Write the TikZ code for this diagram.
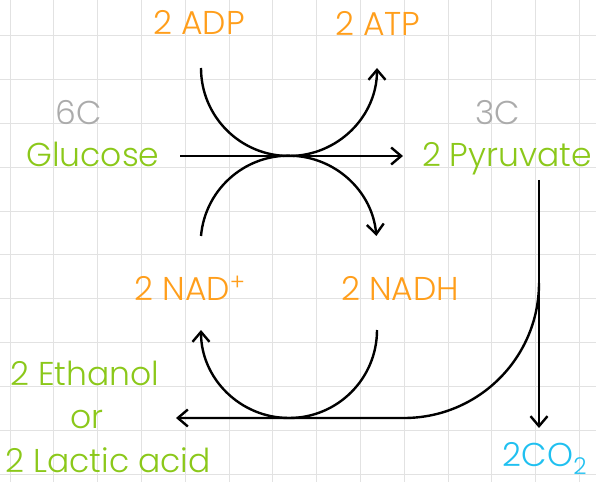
\documentclass[tikz,border=0pt]{standalone}
\usepackage{fontspec}
\setmainfont{Poppins}[UprightFont=* Light]
\usepackage{xcolor}
\usetikzlibrary{arrows.meta}

\definecolor{fuel}{HTML}{FF9E1B}
\definecolor{chem}{HTML}{8BC81A}
\definecolor{gas}{HTML}{20C0F0}
\definecolor{carb}{HTML}{ABABAB}
\definecolor{paper}{HTML}{E2E2E2}

\begin{document}
\begin{tikzpicture}[
    x=1pt, y=1pt,
    label/.style={anchor=base, inner sep=0pt, font=\fontsize{33}{36}\selectfont},
    arr/.style={-{Straight Barb[length=10pt, width=17pt, line width=2.4pt]}, line width=2.4pt}
]
\useasboundingbox (0,0) rectangle (596,482);

% Griglia
\foreach \i in {0,...,13}
    \draw[paper, line width=1pt] (10+43.8*\i,0) -- (10+43.8*\i,482);
\foreach \i in {0,...,10}
    \draw[paper, line width=1pt] (0,446-43.8*\i) -- (596,446-43.8*\i);

% Molecole
\node[label, carb] (sixc) at (79,357) {6C};
\node[label, chem] (glucose) at (93,315) {Glucose};
\node[label, carb] (threec) at (498,357) {3C};
\node[label, chem] (pyruvate) at (507,315) {2 Pyruvate};
\node[label, chem] (ethanol) at (85,97) {2 Ethanol};
\node[label, chem] (or) at (87,54) {or};
\node[label, chem] (lactic) at (108,10) {2 Lactic acid};
\node[label, gas] (co2) at (545,16) {2CO\textsubscript{2}};

% Cofattori
\node[label, fuel] (adp) at (199,447) {2 ADP};
\node[label, fuel] (atp) at (378,446) {2 ATP};
\node[label, fuel] (nad) at (190,182) {2 NAD\textsuperscript{+}};
\node[label, fuel] (nadh) at (400,182) {2 NADH};

% Punti delle frecce
\coordinate (gstart) at (180,326);
\coordinate (gend) at (403,326);
\coordinate (adpin) at (201,414);
\coordinate (nadin) at (201,246);
\coordinate (nadhin) at (377,152);
\coordinate (pstart) at (539,302);
\coordinate (pend) at (539,54);
\coordinate (bend) at (539,199);
\coordinate (fend) at (176,64);

% Frecce
\draw[arr] (gstart) -- (gend);
\draw[arr] (adpin) arc[start angle=180, end angle=360, radius=88];
\draw[arr] (nadin) arc[start angle=175, end angle=5, radius=88];
\draw[arr] (nadhin) arc[start angle=0, end angle=-180, radius=88];
\draw[arr] (pstart) -- (pend);
\draw[arr] (bend) arc[start angle=0, end angle=-90, radius=135] -- (fend);

\end{tikzpicture}
\end{document}
